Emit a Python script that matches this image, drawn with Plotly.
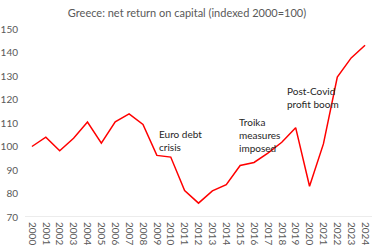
import plotly.graph_objects as go

years = list(range(2000, 2025))
values = [100, 104.0, 98.2, 103.5, 110.4, 101.4, 110.5, 113.9, 109.4, 96.2,
          95.5, 81.3, 75.9, 81.1, 83.8, 91.9, 93.2, 97.2, 101.8, 108.0,
          83.1, 101.1, 129.5, 137.7, 143.1]
yticks = [70, 80, 90, 100, 110, 120, 130, 140, 150]
title = "Greece: net return on capital (indexed 2000=100)"
notes = [("Euro debt<br>crisis", 2009.0, 108.6),
         ("Troika<br>measures<br>imposed", 2014.8, 113.9),
         ("Post-Covid<br>profit boom", 2018.2, 127.2)]

FONT = "Lato"
GRAY = "#595959"

fig = go.Figure()
fig.add_trace(go.Scatter(x=years, y=values, mode="lines",
                         line=dict(color="#ff0000", width=1.5)))

for txt, xv, yv in notes:
    fig.add_annotation(x=xv, y=yv, text=txt, showarrow=False, xanchor="left",
                       yanchor="top", align="left",
                       font=dict(family=FONT, size=10, color="#262626"))

fig.update_layout(
    width=374, height=248,
    margin=dict(l=25, r=2, t=29, b=31),
    paper_bgcolor="white", plot_bgcolor="white",
    showlegend=False,
    title=dict(text=title, x=0.5, xanchor="center", y=0.945, yanchor="middle",
               font=dict(family=FONT, size=11, color=GRAY)),
    xaxis=dict(range=[1999.5, 2024.5], tickmode="array", tickvals=years,
               ticktext=[str(y) for y in years], tickangle=90,
               showgrid=False, showline=False, zeroline=False, ticks="",
               ticklabelstandoff=4,
               tickfont=dict(family=FONT, size=10, color=GRAY)),
    yaxis=dict(range=[70, 150], tickmode="array", tickvals=yticks,
               showgrid=False, zeroline=False, ticks="",
               showline=False, ticklabelstandoff=6,
               tickfont=dict(family=FONT, size=10, color=GRAY)),
)
fig.add_shape(type="line", xref="paper", yref="y", x0=0, x1=1, y0=70, y1=70,
              line=dict(color="#d9d9d9", width=1))

fig.write_html("out.html")
